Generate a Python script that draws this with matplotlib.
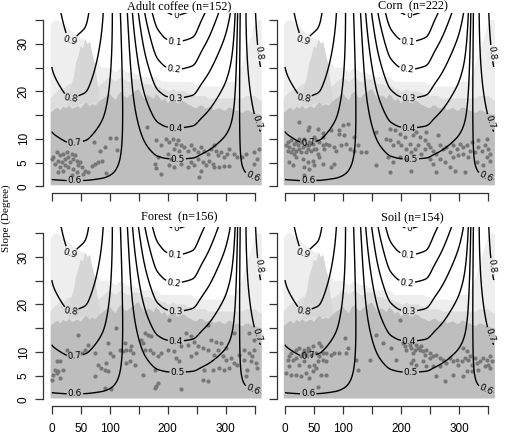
import numpy as np
import matplotlib
matplotlib.use("Agg")
import matplotlib.pyplot as plt

# ---------------- data ----------------
titles = ["Adult coffee (n=152)", "Corn  (n=222)", "Forest  (n=156)", "Soil (n=154)"]

coffee_pts = [(2.8,6.1),(8.6,7.2),(14.2,6.5),(11.3,5.4),(17.1,5.1),(19.9,6.8),(22.8,5.8),(25.7,7.2),(28.5,6.1),(31.4,5.1),
 (34.3,6.8),(37.1,5.8),(40,6.5),(42.9,5.4),(45.6,4.4),(48.5,5.1),(51.4,4.0),(14.2,4.0),(19.9,3.3),(28.5,4.0),
 (37.1,3.7),(42.9,3.0),(57.1,3.3),(5.7,4.7),(0,5.8),(22.8,4.4),(11.3,3.0),(34.3,2.3),(54.2,2.6),(73.1,9.3),
 (82.8,7.5),(91.4,8.2),(111.5,10.1),(112.5,7.7),(74.3,4.7),(80,5.1),(86.8,5.4),(68.6,4.2),(94.3,2.8),(164.6,12.5),
 (180,3.8),(62.8,3.0),(100,10.1),
 (180.1,9.7),(188.6,8.6),(197.2,10.0),(202.9,9.3),(208.6,10.0),(214.4,9.0),(217.2,9.7),(222.9,8.6),(211.5,7.9),(220.1,7.5),
 (228.7,8.2),(234.4,7.5),(240.1,8.6),(245.8,7.9),(251.5,7.2),(257.2,8.3),(263,7.5),(268.7,6.8),(274.4,7.9),(280.1,8.6),
 (283,7.5),(285.8,6.5),(291.5,7.2),(297.3,6.1),(303,6.8),(305.8,7.9),(314.4,6.8),(320.1,6.1),(328.7,6.1),(334.4,6.8),
 (348.7,7.2),(354.4,5.8),(357.3,7.9),(348.7,4.7),(200,6.8),(205.8,5.8),(202.9,4.4),(211.5,4.0),(222.9,4.7),(234.4,4.0),
 (240.1,5.1),(245.8,4.4),(251.5,5.8),(260.1,5.1),(265.8,4.4),(271.5,5.4),(277.2,4.7),(280.1,4.0),(288.7,4.0),(297.3,4.2),
 (305.8,4.2),(257.2,3.3),(254.4,1.9),(188.6,2.6),(177.2,4.7),(182.9,6.1)]

corn_pts = [(24.8,13.5),(42.1,12.5),(39.2,11.8),(56.5,12.1),(65.2,11.3),(79.6,11.8),(94,11.9),(99.8,13.0),(108.4,13.2),(94,10.9),
 (102.6,10.7),(119.9,10.4),(125.7,8.6),(131.5,7.2),(157.4,11.4),(174.7,10.0),(42.1,8.6),(53.6,7.9),(68.1,7.9),(76.7,8.6),
 (85.4,8.3),(88.2,7.5),(96.9,8.6),(105.5,9.0),(111.3,7.9),(119.9,7.5),(19,6.1),(30.6,5.8),(39.2,5.1),(47.9,5.4),
 (59.4,6.1),(65.2,4.7),(33.4,4.0),(42.1,3.7),(50.7,4.4),(79.6,4.0),(85.4,4.7),(157.4,4.4),(177.6,6.1),(140.1,7.2),
 (33.4,2.3),(7.5,5.1),(13.3,4.4),
 (4.6,9.3),(10.4,9.7),(16.1,9.0),(21.9,8.6),(27.7,9.3),(7.5,8.2),(13.3,7.9),(19,7.5),(24.8,7.9),(30.6,8.2),
 (36.3,8.6),(42.1,9.3),(47.9,9.0),(53.6,9.7),(59.4,9.3),(65.2,8.6),(70.9,9.0),(4.6,7.5),(10.4,7.2),(16.1,6.8),
 (27.7,7.2),(36.3,7.2),(45,7.5),(56.5,6.8),(33.4,10.0),(50.7,10.4),(65.2,10.4),(1.7,8.6),(19,9.3),(39.2,7.9),
 (50.7,7.9),(24.8,10.0),
 (180.5,12.1),(189.1,11.8),(197.8,11.1),(206.4,10.4),(220.8,10.7),(226.6,11.4),(232.4,10.4),(241,9.7),(246.8,9.0),(180.5,9.7),
 (186.2,8.6),(194.9,9.3),(200.7,8.6),(209.3,7.9),(215.1,9.0),(218,7.2),(223.7,7.9),(229.5,8.6),(235.3,6.8),(241,7.9),
 (249.7,8.2),(255.4,7.5),(261.2,6.8),(267,8.6),(272.7,7.9),(278.5,8.2),(284.3,7.2),(290,8.6),(295.8,7.9),(301.6,9.0),
 (307.3,8.2),(313.1,8.6),(318.9,7.5),(321.8,9.3),(327.5,7.2),(333.3,8.2),(339.1,7.5),(344.8,8.6),(350.6,7.9),(353.5,6.8),
 (347.7,6.1),(353.5,5.4),(342,4.4),(330.4,5.1),(316,6.1),(307.3,6.8),(298.7,6.5),(290,6.1),(275.6,5.1),(267,5.8),
 (255.4,4.7),(249.7,5.8),(209.3,5.8),(197.8,6.1),(186.2,5.1),(180.5,3.0),(218,3.3),(261.2,3.0),(284.3,4.0),(292.9,3.3),
 (310.2,3.0),(243.9,11.4),(264.1,10.7),(333.3,9.7),(347.7,10.0)]

forest_pts = [(45.7,13.6),(62.8,11.5),(97.1,11.9),(111.4,15.0),(122.9,10.1),(128.6,10.5),(134.3,10.5),(137.1,11.2),(140,9.8),(100,9.8),
 (105.7,9.1),(74.3,9.8),(51.4,9.8),(57.1,10.5),(25.7,10.5),(14.2,8.0),(8.5,8.0),(19.9,6.3),(5.7,6.3),(8.5,5.6),
 (2.8,5.2),(11.4,5.9),(0,4.2),(14.2,4.5),(80,7.3),(85.7,6.6),(91.4,6.3),(97.1,5.9),(94.3,7.7),(74.3,4.9),
 (102.9,2.1),(91.4,2.4),(128.6,7.7),(134.3,8.0),(142.9,7.3),(160,14.0),(165.7,13.6),(171.5,13.3),(157.2,11.9),(154.3,12.6),
 (160,10.5),(168.6,10.5),(174.3,9.8),(157.2,5.2),(177.2,2.4),(180,2.8),(125.7,11.9),(117.1,10.5),
 (202.9,16.8),(268.7,15.7),(231.5,14.0),(240.1,13.3),(245.8,12.2),(234.4,11.5),(222.9,11.2),(211.5,10.1),(200,10.5),(188.6,9.8),
 (182.9,9.1),(214.4,8.7),(220.1,8.0),(251.5,11.2),(260.1,10.8),(268.7,10.5),(274.4,12.6),(283,12.2),(291.5,11.9),(300.1,10.8),
 (285.8,10.5),(280.1,9.4),(294.4,9.1),(300.1,8.4),(308.7,8.7),(314.4,7.7),(320.1,7.3),(305.8,6.6),(297.3,6.3),(288.7,6.6),
 (277.3,6.3),(263,6.3),(260.1,4.2),(268.7,3.8),(222.9,2.1),(331.6,10.5),(340.1,9.8),(345.9,9.1),(348.7,10.5),(343,8.0),
 (351.6,7.7),(354.4,6.6),(337.3,6.3),(334.4,4.9),(348.7,12.6),(340.1,14.0),(314.4,14.0),(177.2,6.3),(182.9,3.5),(248.7,9.8),
 (240.1,9.1),(323,9.4),(331.6,8.4)]

soil_pts = [(102.7,12.9),(157.4,13.6),(169,11.9),(59.4,11.9),(62.3,11.2),(47.9,11.2),(39.2,10.8),(42.1,10.5),(33.4,10.5),(24.8,10.8),
 (19,10.5),(10.4,9.8),(7.5,9.1),(4.6,8.4),(13.3,8.4),(19,8.7),(27.7,9.1),(30.6,9.8),(36.3,9.4),(45,9.4),
 (53.6,9.8),(59.4,9.1),(65.2,9.8),(70.9,9.8),(79.6,9.4),(85.4,9.8),(94,9.8),(70.9,8.0),(65.2,8.4),(56.5,8.0),
 (50.7,7.3),(42.1,7.0),(53.6,6.6),(47.9,6.0),(36.3,5.6),(27.7,4.9),(19,5.2),(10.4,5.2),(1.7,5.6),(7.5,7.0),
 (24.8,7.3),(33.4,8.0),(62.3,5.2),(70.9,5.2),(42.1,4.5),(108.4,10.8),(122.8,8.4),(125.7,6.3),(145.9,8.4),(56.5,2.7),
 (39.2,10.1),(105.5,9.8),
 (197.8,16.8),(192,8.4),(203.5,11.9),(206.4,11.2),(209.3,10.5),(215.1,11.5),(218,10.8),(220.8,9.8),(223.7,10.5),(226.6,11.5),
 (229.5,10.8),(232.4,10.5),(235.3,11.2),(238.1,10.1),(241,9.4),(243.9,10.5),(249.7,9.8),(255.4,9.1),(261.2,9.4),(249.7,8.7),
 (220.8,8.4),(218,7.7),(226.6,7.3),(238.1,8.0),(267,8.7),(272.7,8.4),(278.5,7.7),(284.3,8.7),(290,8.0),(295.8,8.4),
 (298.7,7.3),(304.5,8.0),(310.2,8.7),(313.1,10.1),(316,8.4),(318.9,9.1),(321.8,7.3),(327.5,8.7),(330.4,7.7),(336.2,8.0),
 (342,8.7),(347.7,8.4),(350.6,7.3),(353.5,6.6),(356.4,8.0),(344.8,7.0),(333.3,6.3),(321.8,6.0),(313.1,6.0),(307.3,4.9),
 (290,5.2),(275.6,3.8),(261.2,4.9),(255.4,7.0),(267,7.0),(243.9,7.0),(183.3,10.8),(307.3,10.8),(353.5,9.1)]

panel_points = [coffee_pts, corn_pts, forest_pts, soil_pts]

# background landscape cloud: dense part, speckled fringe and sparse part (upper edges, degrees)
bg_aspect = [-2,5,10,15,20,25,30,35,40,45,50,55,60,65,70,75,80,85,90,95,100,105,110,115,120,125,130,135,140,
             145,150,155,160,165,170,175,180,185,190,195,200,205,210,215,220,225,230,235,240,245,250,255,260,
             265,270,275,280,285,290,295,300,305,310,315,320,325,330,335,340,345,350,355,362]
bg_dense_top = [15.5,16.2,16.6,16.0,16.8,16.4,17.0,16.3,16.6,16.9,16.4,17.2,17.6,16.9,17.3,17.0,17.6,18.2,18.6,19.1,
                19.6,18.8,18.2,19.4,20.0,19.0,18.6,19.3,19.6,20.2,20.5,19.4,18.5,19.2,19.0,18.4,19.5,18.8,18.0,18.6,
                17.5,18.1,18.5,17.6,17.5,18.0,17.8,17.2,17.0,16.6,16.5,17.0,17.0,16.4,16.5,16.8,16.0,16.3,16.5,16.0,
                16.0,16.6,16.5,16.0,16.0,15.6,15.5,16.0,16.0,15.6,15.5,15.2,15.0]
bg_fringe_top = [18.5,19.5,20,20.5,20.5,21,21.5,21.5,22.5,23,23,23,23,22.5,22,21.5,21,21.5,22,22.5,
                 23,22.5,22,22.5,23,22.5,22,22,22.5,22.5,22.5,22,21.5,21.5,21.5,21,21,21,20.5,20.5,
                 20,20,20.5,20,20,20,20,19.5,19.5,19,19,19,19,19,18.5,18.5,18.5,18.5,18.5,18.5,
                 18.5,18.5,18.5,18.5,18.5,18.5,18.5,19,19,19,19,18.5,18]
bg_sparse_top = [34,35,35,34.5,34,33.5,33,32.5,32,31.5,31,31,30,28,27,26,26,25,25,25,
                 25,24.5,24,24.5,25,24.5,24,24,24,23.5,23.5,23,23,23,23,23,23,22.5,22,22,
                 22,22,22,22,22,22,22,22,22,21.5,21.5,21,21,21,21,21,21,21,21,21,
                 22,22,22,22,23,24.5,26,28,30,32,34,35,35]
bg_bottom = 0.2
patch_aspect = [30,34,38,42,46,50,54,58,62,66,70,74,78,82]
patch_low = [17,17,17,17,17.2,17.4,17.6,17,17.3,17.3,17.5,17.5,17.5,17.5]
patch_top = [19,21.5,23,26,27.5,29.5,29,31,30,30.5,28,26,22.5,19]

# surface: z = a + s*h(aspect) + s^2*g(aspect)
surf_a = 0.584
knot_aspect = [0, 30, 60, 90, 105, 117, 130, 140, 160, 180, 195, 205, 214, 225, 235, 246,
               257, 270, 285, 300, 310, 317, 321, 324, 333, 346]
knot_h = [0.0115, 0.0139, 0.0131, 0.0093, 0.0062, 0.0033, 0.0003, -0.0032, -0.0085, -0.0128,
          -0.0140, -0.0143, -0.0145, -0.0143, -0.0141, -0.0138, -0.0122, -0.0108, -0.0090,
          -0.0073, -0.0057, -0.0034, 0.0000, 0.0025, 0.0055, 0.0084]
knot_g = [-1.1e-4, -1.15e-4, -1.1e-4, -0.95e-4, -0.85e-4, -0.7e-4, -0.65e-4, -0.6e-4, -0.55e-4,
          -0.5e-4, -0.5e-4, -0.5e-4, -0.5e-4, -0.5e-4, -0.5e-4, -0.5e-4, -0.5e-4, -0.5e-4,
          -0.5e-4, -0.5e-4, -0.5e-4, -0.5e-4, -0.5e-4, -0.5e-4, -0.7e-4, -0.95e-4]
levels = [0, 0.1, 0.2, 0.3, 0.4, 0.5, 0.6, 0.7, 0.8, 0.9]

x_ticks = [0, 50, 100, 150, 200, 250, 300, 350]
x_ticklabels = ["0", "50", "100", "", "200", "", "300", ""]
y_ticks = [0, 5, 10, 15, 20, 25, 30, 35]
y_ticklabels = ["0", "5", "10", "", "20", "", "30", ""]

# ---------------- surface ----------------
def periodic_smooth(kx, kv, grid, sigma=3.0):
    kx = np.asarray(kx, float); kv = np.asarray(kv, float)
    ext_x = np.concatenate([kx - 360, kx, kx + 360])
    ext_v = np.concatenate([kv, kv, kv])
    fine = np.arange(-60, 421, 1.0)
    vals = np.interp(fine, ext_x, ext_v)
    k = np.arange(-12, 13)
    w = np.exp(-0.5 * (k / sigma) ** 2); w /= w.sum()
    sm = np.convolve(vals, w, mode='same')
    return np.interp(grid, fine, sm)

asp_grid = np.linspace(0, 360, 721)
slope_grid = np.linspace(0, 40, 201)
Hs = periodic_smooth(knot_aspect, knot_h, asp_grid)
Gs = periodic_smooth(knot_aspect, knot_g, asp_grid)
A, S = np.meshgrid(asp_grid, slope_grid)
Z = surf_a + S * Hs[None, :] + S ** 2 * Gs[None, :]

label_pos = [(31, 30.7), (33, 18.3), (40, 9.0), (40, 1.2), (217, 5.8), (214, 12.5), (214, 18.7),
             (211, 24.8), (213, 31), (214, 35.9), (346, 1.9), (352, 13.5), (354, 28)]

# ---------------- figure ----------------
fig = plt.figure(figsize=(5.05, 4.42), dpi=100)
W, Hh = 505.0, 442.0
lefts = [43.4, 276.6]
tops = [13.4, 226.6]
title_y = [37.85, 38.4]
pw, ph = 225.5, 179.5

for i in range(4):
    r, c = divmod(i, 2)
    ax = fig.add_axes([lefts[c] / W, 1 - (tops[r] + ph) / Hh, pw / W, ph / Hh])
    ax.set_xlim(-14.4, 374.4)
    ax.set_ylim(-1.4, 36.4)
    # background cloud
    ax.fill_between(bg_aspect, bg_dense_top, bg_sparse_top, facecolor='#EEEEEE',
                    linewidth=0, zorder=1)
    ax.fill_between(bg_aspect, bg_dense_top, bg_fringe_top, facecolor='#DDDDDD',
                    linewidth=0, zorder=1)
    ax.fill_between(patch_aspect, patch_low, patch_top, facecolor='#D6D6D6',
                    linewidth=0, zorder=1)
    ax.fill_between(bg_aspect, bg_bottom, bg_dense_top, facecolor='#BEBEBE',
                    linewidth=0, zorder=1)
    pts = np.array(panel_points[i])
    ax.scatter(pts[:, 0], pts[:, 1], s=9, c='#777777', linewidths=0, zorder=2)
    cs = ax.contour(A, S, Z, levels=levels, colors='black', linewidths=1.0, zorder=3)
    ax.clabel(cs, fmt=lambda v: f"{round(v, 1):g}", fontsize=6.5, inline=True,
              inline_spacing=1, manual=label_pos)
    for t in cs.labelTexts:
        t.set_fontfamily('DejaVu Sans')
    for sp in ['top', 'right']:
        ax.spines[sp].set_visible(False)
    ax.spines['left'].set_bounds(0, 35)
    ax.spines['bottom'].set_bounds(0, 350)
    for sp in ['left', 'bottom']:
        ax.spines[sp].set_linewidth(0.9)
        ax.spines[sp].set_color('#333333')
    ax.set_xticks(x_ticks)
    ax.set_yticks(y_ticks)
    ax.tick_params(direction='out', length=5.8, width=0.9, color='#333333')
    ax.tick_params(axis='x', pad=6.5)
    ax.tick_params(axis='y', pad=4)
    if r == 1:
        ax.set_xticklabels(x_ticklabels, fontfamily='Liberation Sans', fontsize=8.5)
    else:
        ax.set_xticklabels([])
    if c == 0:
        ax.set_yticklabels(y_ticklabels, fontfamily='Liberation Sans', fontsize=8.5,
                           rotation=90, va='center')
    else:
        ax.set_yticklabels([])
    ax.text(220, title_y[r], titles[i], ha='center', va='center', fontfamily='Liberation Serif',
            fontsize=8.8, clip_on=False)

fig.text(6 / W, 1 - 218 / Hh, "Slope (Degree)", rotation=90, ha='center', va='center',
         fontfamily='Liberation Serif', fontsize=8)
fig.savefig("out.png", dpi=100)
